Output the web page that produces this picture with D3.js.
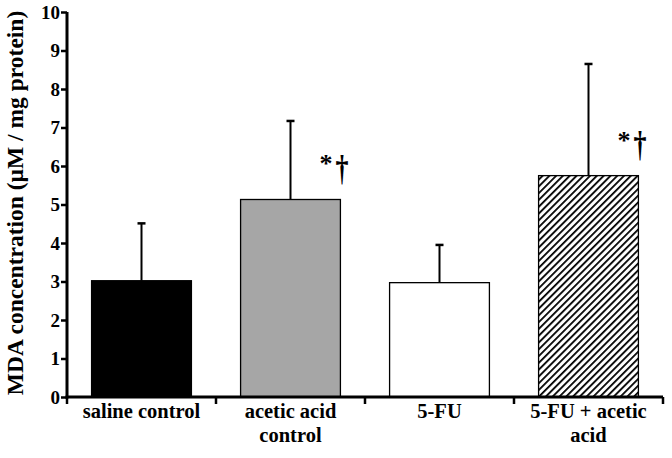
<!DOCTYPE html>
<html>
<head>
<meta charset="utf-8">
<script src="https://cdn.jsdelivr.net/npm/d3@7"></script>
<style>
  body { margin: 0; background: #fff; }
  svg text { font-family: "Liberation Serif", "Times New Roman", serif; font-weight: bold; }
</style>
</head>
<body>
<div id="grafica"></div>
<script>
// datos
var groups = ["saline control", "acetic acid control", "5-FU", "5-FU + acetic acid"];
var labelLines = [["saline control"], ["acetic acid", "control"], ["5-FU"], ["5-FU + acetic", "acid"]];
var means = [3.02, 5.13, 2.97, 5.75];
var errTop = [4.51, 7.17, 3.95, 8.65];
var signif = ["", "*\u2020", "", "*\u2020"];
var yTicks = [0, 1, 2, 3, 4, 5, 6, 7, 8, 9, 10];
var fills = ["#000000", "#a6a6a6", "#ffffff", "url(#hatch)"];

var W = 672, H = 458;
var margin = { top: 12, right: 9, bottom: 61, left: 67 },
  width = W - margin.left - margin.right,
  height = H - margin.top - margin.bottom;

var svg = d3.select("#grafica")
  .append("svg")
  .attr("width", W)
  .attr("height", H);

// patron rayado para la ultima barra
var hp = 4.8;
var pat = svg.append("defs").append("pattern")
  .attr("id", "hatch")
  .attr("patternUnits", "userSpaceOnUse")
  .attr("width", hp)
  .attr("height", hp)
  .attr("patternTransform", "rotate(45)");
pat.append("rect").attr("width", hp).attr("height", hp).attr("fill", "#fff");
pat.append("line")
  .attr("x1", 0).attr("y1", 0).attr("x2", 0).attr("y2", hp)
  .attr("stroke", "#000").attr("stroke-width", 3.6);

var g = svg.append("g")
  .attr("transform", "translate(" + margin.left + "," + margin.top + ")");

var x = d3.scaleBand()
  .domain(groups)
  .range([0, width])
  .paddingInner(0.33)
  .paddingOuter(0.165);

var y = d3.scaleLinear()
  .domain([0, 10])
  .range([height, 0]);

// barras
g.selectAll(".bar")
  .data(groups)
  .enter()
  .append("rect")
  .attr("class", "bar")
  .attr("x", function (d) { return x(d); })
  .attr("y", function (d, i) { return y(means[i]); })
  .attr("width", x.bandwidth())
  .attr("height", function (d, i) { return height - y(means[i]); })
  .attr("fill", function (d, i) { return fills[i]; })
  .attr("stroke", "#000")
  .attr("stroke-width", 1.3);

// barras de error (solo hacia arriba)
g.selectAll(".err")
  .data(groups)
  .enter()
  .append("line")
  .attr("x1", function (d) { return x(d) + x.bandwidth() / 2; })
  .attr("x2", function (d) { return x(d) + x.bandwidth() / 2; })
  .attr("y1", function (d, i) { return y(means[i]); })
  .attr("y2", function (d, i) { return y(errTop[i]); })
  .attr("stroke", "#000")
  .attr("stroke-width", 2);
g.selectAll(".cap")
  .data(groups)
  .enter()
  .append("line")
  .attr("x1", function (d) { return x(d) + x.bandwidth() / 2 - 4; })
  .attr("x2", function (d) { return x(d) + x.bandwidth() / 2 + 4; })
  .attr("y1", function (d, i) { return y(errTop[i]); })
  .attr("y2", function (d, i) { return y(errTop[i]); })
  .attr("stroke", "#000")
  .attr("stroke-width", 2.5);

// asteriscos y cruces (la cruz aparece estirada en vertical)
var sig = g.selectAll(".sig")
  .data(groups)
  .enter()
  .append("g")
  .attr("transform", function (d, i) {
    return "translate(" + (x(d) + x.bandwidth() / 2 + 29) + "," + (y(means[i]) - 27) + ")";
  });
sig.append("text")
  .style("font-size", "26px")
  .text(function (d, i) { return signif[i].charAt(0); });
sig.append("text")
  .attr("x", 16)
  .attr("transform", "translate(0,-17.7) scale(1,1.4) translate(0,17.7)")
  .style("font-size", "26px")
  .text(function (d, i) { return signif[i].charAt(1); });

// eje y
var yAxis = g.append("g")
  .call(d3.axisLeft(y).tickValues(yTicks).tickSize(6).tickPadding(1));
yAxis.select(".domain").attr("stroke-width", 3).attr("d", "M0," + (height + 1.5) + "V0");
yAxis.selectAll(".tick line").attr("stroke-width", 2.5);
yAxis.selectAll("text").style("font-size", "19px").attr("fill", "#000");

// eje x
var xBounds = d3.range(groups.length + 1);
var xAxis = g.append("g").attr("transform", "translate(0," + height + ")");
xAxis.append("line")
  .attr("x1", -1.5).attr("x2", width)
  .attr("stroke", "#000").attr("stroke-width", 3);
xAxis.selectAll(".xt")
  .data(xBounds)
  .enter()
  .append("line")
  .attr("x1", function (d) { return d * x.step(); })
  .attr("x2", function (d) { return d * x.step(); })
  .attr("y1", 0).attr("y2", 7)
  .attr("stroke", "#000").attr("stroke-width", 2.5);

// etiquetas de categorias
var lab = xAxis.selectAll(".lab")
  .data(groups)
  .enter()
  .append("text")
  .attr("text-anchor", "middle")
  .attr("x", function (d) { return x(d) + x.bandwidth() / 2; })
  .attr("y", 21)
  .style("font-size", "20.5px");
lab.selectAll("tspan")
  .data(function (d, i) { return labelLines[i]; })
  .enter()
  .append("tspan")
  .attr("x", function () { return this.parentNode.getAttribute("x"); })
  .attr("dy", function (d, i) { return i === 0 ? 0 : 24; })
  .text(function (d) { return d; });

// titulo del eje y
svg.append("text")
  .attr("transform", "translate(23,203) rotate(-90)")
  .attr("text-anchor", "middle")
  .style("font-size", "23.5px")
  .text("MDA concentration (\u00b5M / mg protein)");
</script>
</body>
</html>
